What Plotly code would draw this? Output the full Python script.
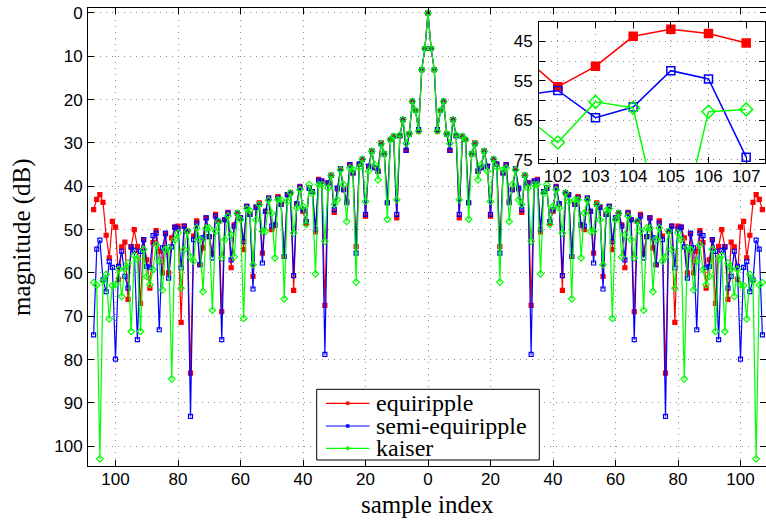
import plotly.graph_objects as go

# Magnitude responses (attenuation in dB) for sample index 0..107; the
# responses are symmetric, so the negative side is the mirror image.
half_index = list(range(108))

equiripple_half = [
    0.0, 8.2, 13.1, 27.3, 22.5, 20.4, 27.9, 31.7, 24.6, 28.3,
    47.3, 28.5, 29.2, 43.8, 32.5, 30.0, 36.5, 35.7, 31.9, 35.4,
    46.9, 33.8, 34.9, 53.9, 36.9, 35.0, 43.5, 40.8, 36.0, 40.6,
    46.0, 37.5, 39.2, 67.5, 38.8, 38.4, 50.5, 41.2, 40.4, 48.5,
    45.8, 40.0, 44.0, 64.0, 41.5, 41.9, 56.2, 44.2, 42.4, 49.0,
    50.0, 42.7, 45.8, 55.4, 43.8, 44.8, 60.8, 46.5, 44.6, 54.6,
    47.3, 46.2, 48.9, 58.8, 46.0, 47.7, 68.9, 48.1, 46.5, 55.4,
    51.6, 47.3, 54.2, 58.1, 48.0, 51.5, 83.1, 50.4, 49.2, 71.4,
    49.2, 49.4, 51.9, 60.0, 51.0, 60.0, 55.0, 50.2, 53.0, 63.5,
    57.0, 52.3, 67.0, 53.9, 50.0, 54.0, 66.1, 52.9, 54.0, 61.5,
    49.4, 48.1, 56.5, 51.3, 43.7, 41.9, 43.0, 45.4,
]

semi_equiripple_half = [
    0.0, 8.2, 13.1, 26.9, 22.5, 20.4, 27.9, 31.7, 24.6, 28.3,
    46.5, 28.5, 29.2, 43.8, 32.5, 30.2, 36.5, 35.7, 31.9, 35.4,
    46.5, 33.8, 34.9, 55.4, 36.9, 35.0, 43.8, 40.8, 36.0, 40.4,
    45.4, 37.5, 39.2, 78.8, 38.8, 38.6, 50.0, 41.2, 40.4, 48.1,
    45.4, 40.2, 44.0, 60.6, 41.5, 41.9, 56.2, 44.2, 42.7, 48.9,
    49.2, 42.7, 45.8, 57.7, 44.2, 44.8, 63.7, 46.5, 44.6, 52.7,
    47.3, 46.2, 49.2, 57.0, 46.2, 47.7, 75.4, 48.1, 46.9, 56.5,
    51.6, 47.3, 51.9, 58.1, 48.5, 52.3, 93.1, 50.4, 49.2, 58.8,
    49.8, 49.4, 54.0, 61.2, 50.8, 54.2, 73.1, 50.8, 51.4, 58.8,
    58.5, 52.3, 55.0, 75.4, 54.8, 54.0, 63.5, 60.8, 55.0, 58.5,
    79.9, 58.7, 57.4, 64.3, 61.6, 52.4, 54.5, 74.3,
]

kaiser_half = [
    0.0, 8.2, 13.1, 27.3, 22.5, 20.4, 27.9, 30.1, 24.6, 28.1,
    43.1, 28.5, 29.2, 47.6, 32.5, 30.2, 38.5, 35.0, 31.9, 36.5,
    43.5, 33.8, 35.6, 62.1, 36.2, 35.8, 48.1, 39.6, 36.2, 43.1,
    44.2, 37.5, 40.4, 52.7, 39.6, 39.6, 60.2, 41.6, 39.6, 48.8,
    44.6, 40.8, 45.0, 50.8, 41.5, 43.5, 66.0, 43.1, 43.1, 56.5,
    46.2, 43.2, 50.4, 50.4, 44.2, 47.7, 58.1, 45.6, 45.2, 70.5,
    47.7, 46.2, 56.3, 51.2, 46.9, 52.3, 56.5, 48.1, 50.4, 68.6,
    49.6, 49.6, 64.3, 52.3, 49.6, 57.3, 56.3, 50.4, 54.6, 63.5,
    50.8, 52.3, 84.5, 54.2, 54.6, 63.9, 57.3, 53.5, 59.2, 62.7,
    60.8, 54.6, 73.5, 56.8, 56.0, 73.5, 57.7, 59.0, 65.4, 59.2,
    62.7, 62.9, 70.6, 60.3, 61.8, 102.9, 62.8, 62.2,
]

series_names = ["equiripple", "semi-equiripple", "kaiser"]
series_colors = ["#ff0000", "#0000ff", "#00ff00"]

x_tick_vals = [-100, -80, -60, -40, -20, 0, 20, 40, 60, 80, 100]
x_tick_text = ["100", "80", "60", "40", "20", "0", "20", "40", "60", "80", "100"]
y_tick_vals = [0, 10, 20, 30, 40, 50, 60, 70, 80, 90, 100]

inset_x_ticks = [102, 103, 104, 105, 106, 107]
inset_y_vals = [45, 50, 55, 60, 65, 70, 75]
inset_y_text = ["45", "", "55", "", "65", "", "75"]


def mirror(half):
    return half[:0:-1] + half


sample_index = [-k for k in half_index[:0:-1]] + half_index
series_values = [mirror(equiripple_half), mirror(semi_equiripple_half), mirror(kaiser_half)]

# page geometry
W, H = 766, 520
ML, MR, MT, MB = 88, 0, 8, 54


def px_x(p):
    return (p - ML) / (W - ML - MR)


def px_y(p):
    return (H - MB - p) / (H - MT - MB)


main_symbols = ["square", "square-open", "diamond-open"]
main_sizes = [4, 4, 5]
inset_symbols = ["square", "square-open", "diamond-open"]
inset_sizes = [8, 8, 10]

fig = go.Figure()

for name, color, y, sym, size in zip(series_names, series_colors, series_values,
                                     main_symbols, main_sizes):
    fig.add_trace(go.Scatter(
        x=sample_index, y=y, name=name, mode="lines+markers",
        line=dict(color=color, width=1.2),
        marker=dict(symbol=sym, size=size, color=color, line=dict(color=color, width=1.2)),
        showlegend=False, xaxis="x", yaxis="y",
    ))

# zoomed view of the right-hand edge
for name, color, y, sym, size in zip(series_names, series_colors, series_values,
                                     inset_symbols, inset_sizes):
    fig.add_trace(go.Scatter(
        x=sample_index, y=y, name=name, mode="lines+markers",
        line=dict(color=color, width=1.5),
        marker=dict(symbol=sym, size=size, color=color, line=dict(color=color, width=1.5)),
        showlegend=False, xaxis="x2", yaxis="y2",
    ))

sans = "Liberation Sans"
serif = "Liberation Serif"

tick_font = dict(family=sans, size=17, color="black")
grid_common = dict(showgrid=True, gridcolor="#8c8c8c", gridwidth=1, griddash="1px,5px",
                   zeroline=False, showline=True, linecolor="black", linewidth=1,
                   mirror="ticks", ticks="inside", tickcolor="black", ticklen=6,
                   tickfont=tick_font)

fig.update_layout(
    width=W, height=H, autosize=False,
    margin=dict(l=ML, r=MR, t=MT, b=MB, pad=0),
    paper_bgcolor="white", plot_bgcolor="white",
    font=dict(family=serif),
    showlegend=False,
    xaxis=dict(domain=[0, 1], range=[-108.8, 108.16], tickmode="array",
               tickvals=x_tick_vals, ticktext=x_tick_text, ticklabelstandoff=-2,
               anchor="y", **grid_common),
    yaxis=dict(domain=[0, 1], range=[104.55, -1.15], tickmode="array",
               tickvals=y_tick_vals, ticklabelstandoff=1, anchor="x", **grid_common),
    xaxis2=dict(domain=[px_x(539), px_x(765)], range=[101.5, 107.5], tickmode="array",
                tickvals=inset_x_ticks, anchor="y2", ticklabelstandoff=-2, **grid_common),
    yaxis2=dict(domain=[px_y(162.7), px_y(21.7)], range=[75.7, 40.0], tickmode="array",
                tickvals=inset_y_vals, ticktext=inset_y_text, anchor="x2",
                ticklabelstandoff=2, **grid_common),
)

fig.add_annotation(text="sample index", xref="paper", yref="paper",
                   x=px_x(427), y=px_y(504), xanchor="center", yanchor="middle",
                   showarrow=False, font=dict(family=serif, size=25, color="black"))
fig.add_annotation(text="magnitude (dB)", xref="paper", yref="paper",
                   x=px_x(22), y=px_y(237), xanchor="center", yanchor="middle",
                   textangle=-90, showarrow=False,
                   font=dict(family=serif, size=25, color="black"))

# legend box
fig.add_shape(type="rect", xref="paper", yref="paper", layer="above",
              x0=px_x(316.7), x1=px_x(539.3), y0=px_y(460), y1=px_y(389.3),
              fillcolor="white", line=dict(color="black", width=1))
legend_rows = [403.3, 426.0, 448.3]
legend_marks = ["square", "square", "diamond"]
for name, color, row, mark in zip(series_names, series_colors, legend_rows, legend_marks):
    fig.add_shape(type="line", xref="paper", yref="paper", layer="above",
                  x0=px_x(326), x1=px_x(369.5), y0=px_y(row), y1=px_y(row),
                  line=dict(color=color, width=1.2))
    if mark == "square":
        fig.add_shape(type="rect", xref="paper", yref="paper", layer="above",
                      x0=px_x(346.2), x1=px_x(349.2), y0=px_y(row + 1.5), y1=px_y(row - 1.5),
                      fillcolor=color, line=dict(color=color, width=0.5))
    else:
        cx, cy = 347.7, row
        path = "M {} {} L {} {} L {} {} L {} {} Z".format(
            px_x(cx - 2.2), px_y(cy), px_x(cx), px_y(cy - 2.2),
            px_x(cx + 2.2), px_y(cy), px_x(cx), px_y(cy + 2.2))
        fig.add_shape(type="path", xref="paper", yref="paper", layer="above",
                      path=path, fillcolor=color, line=dict(color=color, width=0.5))
    fig.add_annotation(text=name, xref="paper", yref="paper",
                       x=px_x(374), y=px_y(row), xanchor="left", yanchor="middle",
                       showarrow=False, font=dict(family=serif, size=24, color="black"))

fig.write_html("out.html")
